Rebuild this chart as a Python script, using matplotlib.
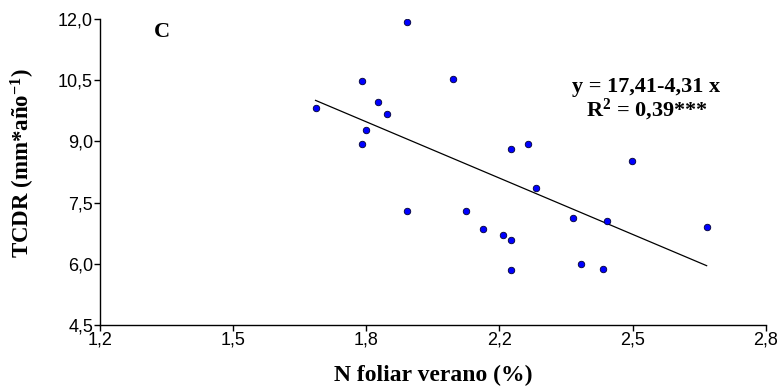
import matplotlib
matplotlib.use("Agg")
import matplotlib.pyplot as plt
import numpy as np

# Data
n_foliar = [1.718, 1.830, 1.868, 1.889, 1.840, 1.830, 1.939, 2.048, 2.188, 2.229,
            2.478, 2.249, 1.939, 2.079, 2.120, 2.168, 2.188, 2.188, 2.338, 2.419,
            2.658, 2.357, 2.410]
tcdr = [9.81, 10.49, 9.97, 9.66, 9.28, 8.94, 11.93, 10.54, 8.81, 8.94,
        8.52, 7.87, 7.30, 7.29, 6.86, 6.71, 6.58, 5.86, 7.13, 7.05,
        6.89, 5.99, 5.88]
intercept = 17.41
slope = -4.31
x_ticks = [1.2, 1.52, 1.84, 2.16, 2.48, 2.8]
x_ticklabels = ["1,2", "1,5", "1,8", "2,2", "2,5", "2,8"]
y_ticks = [4.5, 6.0, 7.5, 9.0, 10.5, 12.0]
y_ticklabels = ["4,5", "6,0", "7,5", "9,0", "10,5", "12,0"]

plt.rcParams['mathtext.fontset'] = 'custom'
plt.rcParams['mathtext.rm'] = 'Liberation Serif:bold'
plt.rcParams['mathtext.it'] = 'Liberation Serif:bold'
plt.rcParams['mathtext.bf'] = 'Liberation Serif:bold'

fig = plt.figure(figsize=(7.8, 3.89), dpi=100)
ax = fig.add_axes([0.1282, 0.1645, 0.9817 - 0.1282, 0.9512 - 0.1645])

ax.scatter(n_foliar, tcdr, s=22, c='#0000ff', edgecolors='#000033', linewidths=0.6, zorder=3)
xl = np.array([min(n_foliar), max(n_foliar)])
ax.plot(xl, intercept + slope * xl, color='black', lw=0.9, zorder=2)

ax.set_xlim(1.2, 2.8)
ax.set_ylim(4.5, 12.0)
ax.set_xticks(x_ticks)
ax.set_xticklabels(x_ticklabels)
ax.set_yticks(y_ticks)
ax.set_yticklabels(y_ticklabels)
for lab in ax.get_xticklabels() + ax.get_yticklabels():
    lab.set_fontfamily('Liberation Sans')
    lab.set_fontsize(13)
ax.tick_params(direction='out', length=4, width=1, pad=1)
ax.spines['top'].set_visible(False)
ax.spines['right'].set_visible(False)
for s in ['left', 'bottom']:
    ax.spines[s].set_linewidth(1)

ax.set_xlabel("N foliar verano (%)", fontfamily='Liberation Serif', fontweight='bold', fontsize=17)
ax.set_ylabel("TCDR (mm*año$^{\\mathrm{-1}}$)", fontfamily='Liberation Serif', fontweight='bold', fontsize=16.5)
ax.xaxis.set_label_coords(0.5, -0.13)
ax.yaxis.set_label_coords(-0.094, 0.53)

ax.text(0.093, 0.957, "C", transform=ax.transAxes, fontfamily='Liberation Serif',
        fontweight='bold', fontsize=16, ha='center', va='center')
ax.text(0.821, 0.778, "y = 17,41-4,31 x", transform=ax.transAxes, fontfamily='Liberation Serif',
        fontweight='bold', fontsize=16, ha='center', va='center')
ax.text(0.821, 0.703, "R$^{2}$ = 0,39***", transform=ax.transAxes, fontfamily='Liberation Serif',
        fontweight='bold', fontsize=16, ha='center', va='center')

fig.savefig("out.png", dpi=100)
